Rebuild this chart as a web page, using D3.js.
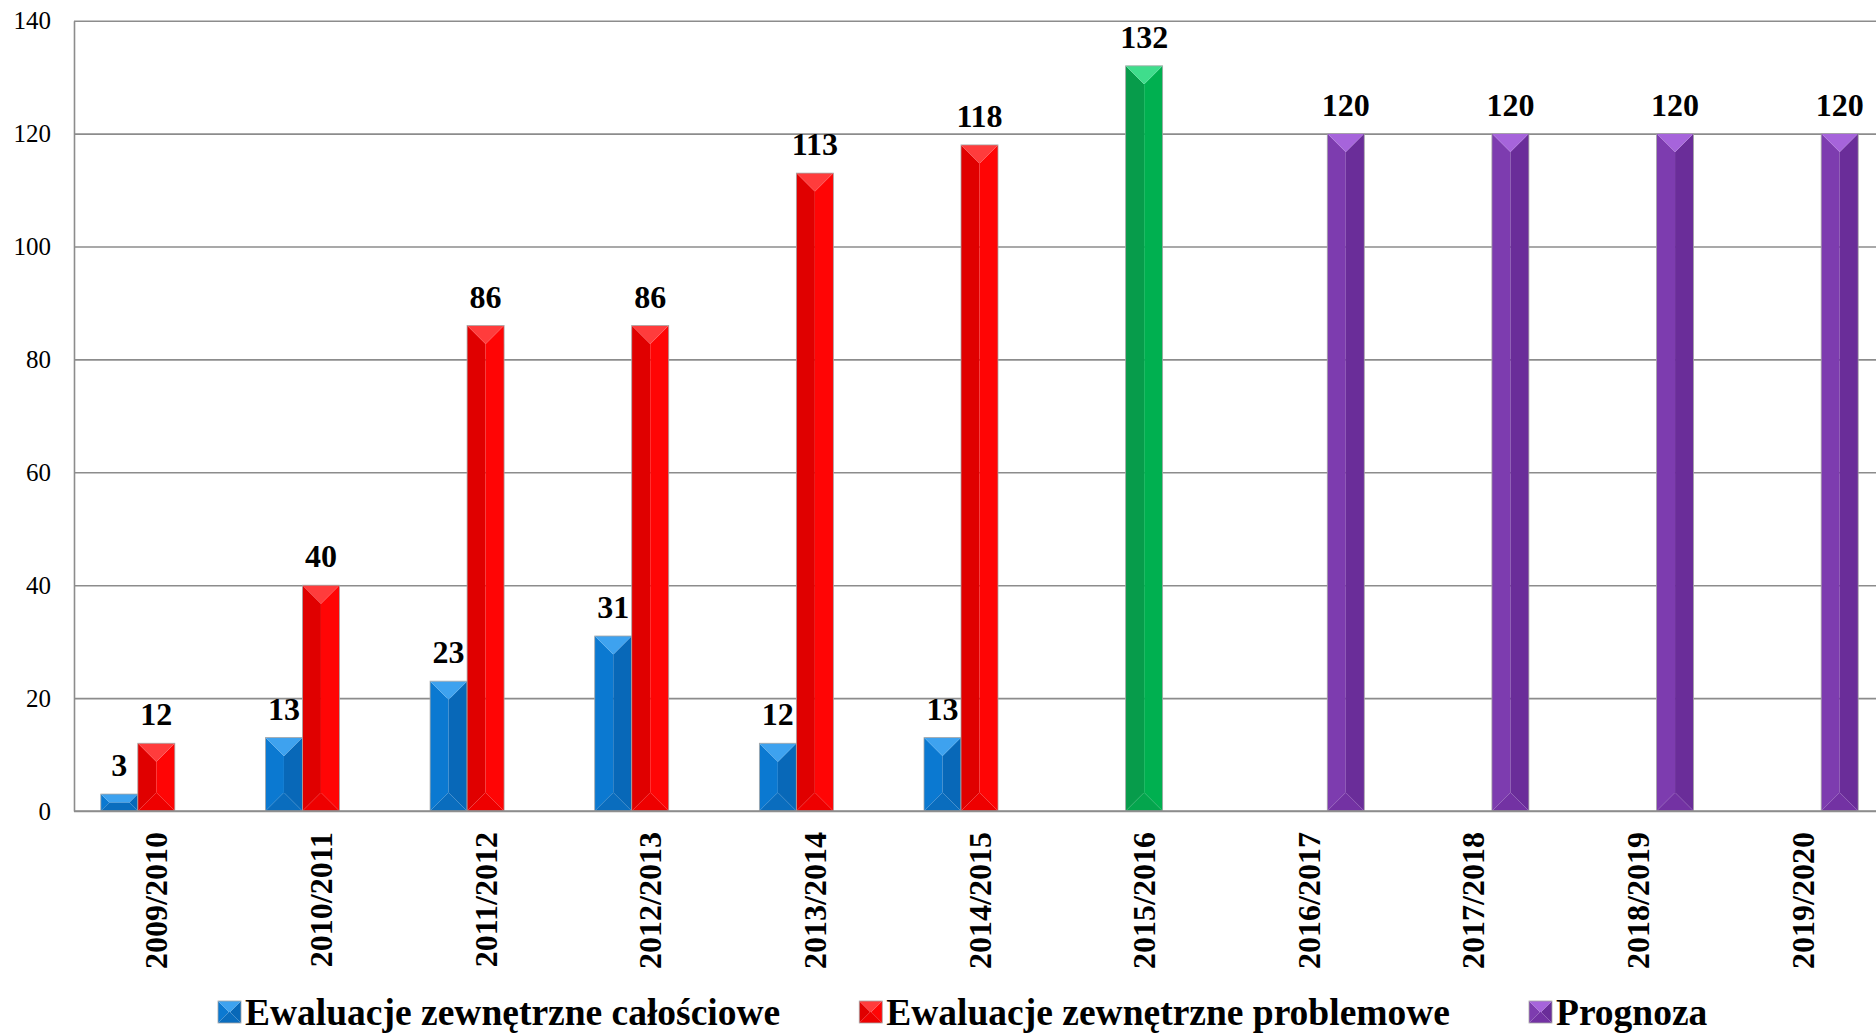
<!DOCTYPE html>
<html lang="pl">
<head>
    <meta charset="UTF-8">
    <title>Ewaluacje zewnętrzne</title>
    <script src="https://d3js.org/d3.v7.min.js"></script>
    <style>
        body {
            margin: 0;
            background: #fff;
        }
        svg {
            display: block;
            font-family: "Liberation Serif", "Times New Roman", serif;
        }
        .tick text {
            font-family: "Liberation Serif", "Times New Roman", serif;
            font-size: 25px;
            fill: #000;
        }
        .value-label {
            font-size: 32px;
            font-weight: bold;
        }
        .cat-label {
            font-size: 32px;
            font-weight: bold;
        }
        .legend-label {
            font-size: 37.5px;
            font-weight: bold;
        }
    </style>
</head>
<body>
<div id="chart"></div>
<script>
    // data
    const categories = ["2009/2010", "2010/2011", "2011/2012", "2012/2013", "2013/2014", "2014/2015",
        "2015/2016", "2016/2017", "2017/2018", "2018/2019", "2019/2020"];
    const calosciowe = [3, 13, 23, 31, 12, 13, null, null, null, null, null];
    const problemowe = [12, 40, 86, 86, 113, 118, 132, null, null, null, null];
    const prognoza = [null, null, null, null, null, null, null, 120, 120, 120, 120];
    const highlightCategory = "2015/2016";   // this point is drawn green
    const yTicks = [0, 20, 40, 60, 80, 100, 120, 140];

    const seriesNames = ["Ewaluacje zewnętrzne całościowe", "Ewaluacje zewnętrzne problemowe", "Prognoza"];
    const seriesValues = [calosciowe, problemowe, prognoza];

    // bevel palettes
    const palettes = {
        blue:   { top: "#3ea2ef", left: "#0b79d1", right: "#0868b8", mid: "#0a70c4", bottom: "#0a6dbe" },
        red:    { top: "#ff3c3c", left: "#e00000", right: "#ff0505", mid: "#f00000", bottom: "#ee0000" },
        green:  { top: "#3fdd8c", left: "#079c4b", right: "#00b050", mid: "#03a64d", bottom: "#04a54d" },
        purple: { top: "#a664db", left: "#7d3caf", right: "#6a2d99", mid: "#7434a4", bottom: "#7332a3" }
    };
    const seriesPalette = ["blue", "red", "purple"];

    const W = 1876, H = 1033;
    const plot = { left: 74, right: 1885, top: 20.7, bottom: 811 };
    const barW = 37;

    const svg = d3.select("#chart").append("svg")
        .attr("width", W)
        .attr("height", H);

    svg.append("rect").attr("width", W).attr("height", H).attr("fill", "#fff");

    const x = d3.scaleBand()
        .domain(categories)
        .range([plot.left, plot.right])
        .padding(0);

    const slot = d3.scaleBand()
        .domain([0, 1, 2])
        .range([-barW * 1.5, barW * 1.5]);

    const y = d3.scaleLinear()
        .domain([0, 140])
        .range([plot.bottom, plot.top]);

    // gridlines + y axis
    const yAxis = svg.append("g")
        .attr("transform", `translate(${plot.left},0)`)
        .call(d3.axisLeft(y).tickValues(yTicks)
            .tickSize(-(W - plot.left))
            .tickSizeOuter(0)
            .tickPadding(23));
    yAxis.attr("font-family", null).attr("font-size", null);
    yAxis.selectAll(".tick line").attr("stroke", "#8c8c8c").attr("stroke-width", 1.6);
    yAxis.select(".domain").attr("stroke", "#8c8c8c").attr("stroke-width", 1.6);

    function bevel(g, bx, by, w, h, pal) {
        const d = Math.min(w / 2, h / 2);
        const x1 = bx + w, y1 = by + h;
        const poly = pts => "M" + pts.map(p => p.join(",")).join("L") + "Z";
        if (w - 2 * d > 0.1) {
            g.append("rect").attr("x", bx + d).attr("y", by + d)
                .attr("width", w - 2 * d).attr("height", Math.max(0, h - 2 * d)).attr("fill", pal.mid);
        }
        g.append("path").attr("d", poly([[bx, by], [bx + d, by + d], [bx + d, y1 - d], [bx, y1]])).attr("fill", pal.left);
        g.append("path").attr("d", poly([[x1, by], [x1, y1], [x1 - d, y1 - d], [x1 - d, by + d]])).attr("fill", pal.right);
        g.append("path").attr("d", poly([[bx, by], [x1, by], [x1 - d, by + d], [bx + d, by + d]])).attr("fill", pal.top);
        g.append("path").attr("d", poly([[bx, y1], [bx + d, y1 - d], [x1 - d, y1 - d], [x1, y1]])).attr("fill", pal.bottom);
        g.append("rect").attr("x", bx).attr("y", by).attr("width", w).attr("height", h)
            .attr("fill", "none").attr("stroke", "#a6a6a6").attr("stroke-width", 0.8);
    }

    // bars
    const bars = [];
    seriesValues.forEach((vals, s) => {
        vals.forEach((v, i) => {
            if (v == null) return;
            const cat = categories[i];
            let pal = seriesPalette[s];
            if (s === 1 && cat === highlightCategory) pal = "green";
            bars.push({ cat, s, v, pal });
        });
    });

    const barG = svg.append("g");
    bars.forEach(b => {
        const cx = x(b.cat) + x.bandwidth() / 2;
        const bx = cx + slot(b.s);
        bevel(barG, bx, y(b.v), barW, y(0) - y(b.v), palettes[b.pal]);
    });

    // x axis line
    svg.append("line")
        .attr("x1", plot.left).attr("x2", W)
        .attr("y1", y(0)).attr("y2", y(0))
        .attr("stroke", "#8c8c8c").attr("stroke-width", 1.6);

    // value labels
    svg.append("g").selectAll("text")
        .data(bars)
        .join("text")
        .attr("class", "value-label")
        .attr("x", d => x(d.cat) + x.bandwidth() / 2 + slot(d.s) + barW / 2)
        .attr("y", d => y(d.v) - 18)
        .attr("text-anchor", "middle")
        .text(d => d.v);

    // category labels
    svg.append("g").selectAll("text")
        .data(categories)
        .join("text")
        .attr("class", "cat-label")
        .attr("transform", d => `translate(${x(d) + x.bandwidth() / 2 + 11},${y(0) + 21}) rotate(-90)`)
        .attr("text-anchor", "end")
        .text(d => d);

    // legend
    const legend = svg.append("g");
    let lx = 218;
    seriesNames.forEach((name, s) => {
        bevel(legend, lx, 1001, 23, 22, palettes[seriesPalette[s]]);
        const t = legend.append("text")
            .attr("class", "legend-label")
            .attr("x", lx + 27)
            .attr("y", 1025)
            .text(name);
        lx += 27 + t.node().getComputedTextLength() + 79;
    });
</script>
</body>
</html>
